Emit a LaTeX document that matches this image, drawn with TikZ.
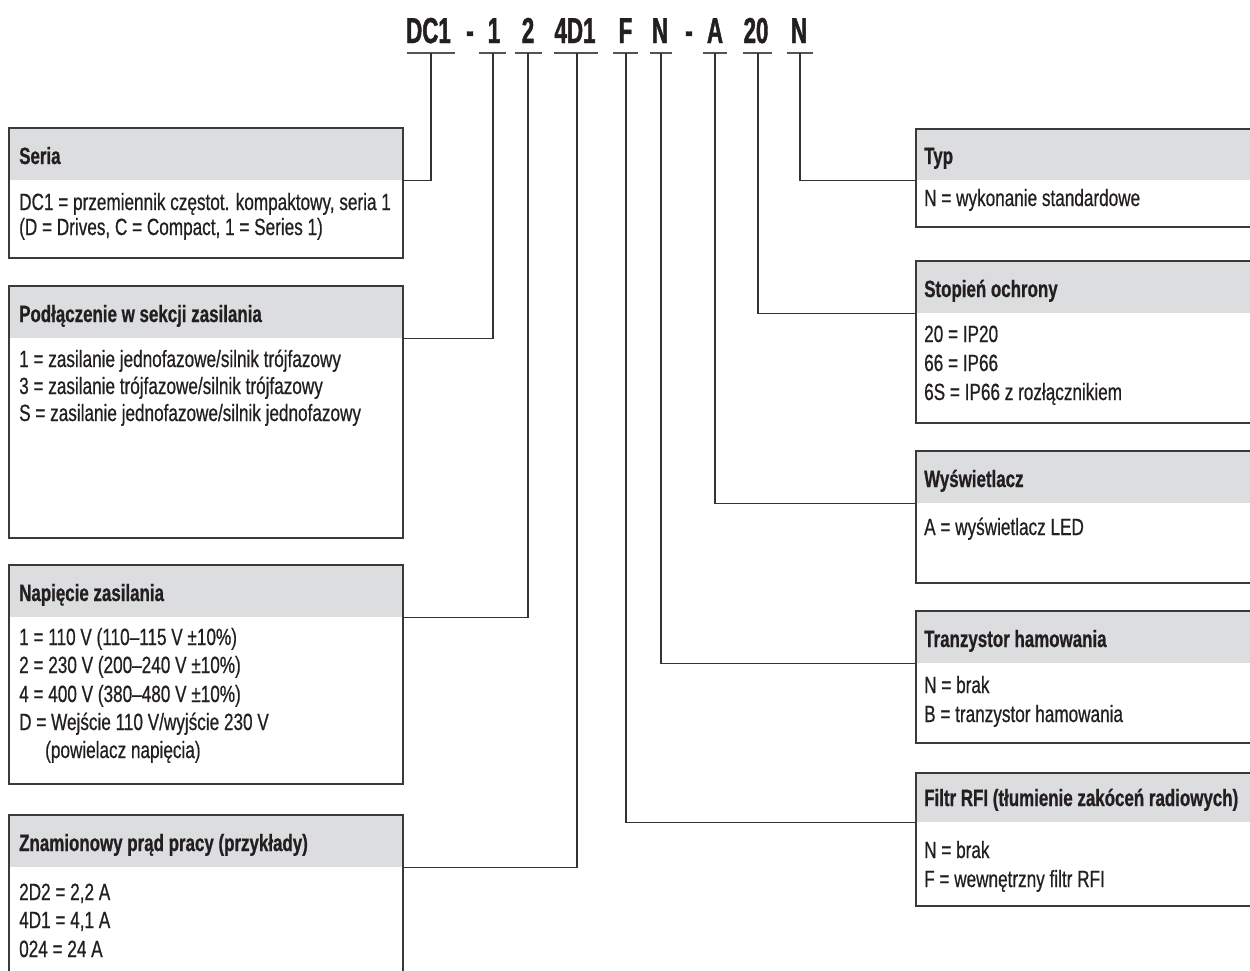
\documentclass[tikz,border=0pt]{standalone}
\usepackage{fontspec}
\setmainfont{Liberation Sans}
\newfontfamily\bodyfam{Liberation Sans}[FakeStretch=0.73,FakeBold=0.6]
\newfontfamily\headfam{Liberation Sans Bold}[FakeStretch=0.72,FakeBold=0.8]
\newfontfamily\codefam{Liberation Sans Bold}[FakeStretch=0.62,FakeBold=1.2]
\definecolor{txtcol}{HTML}{231F20}
\definecolor{headgray}{HTML}{DCDDDF}
\definecolor{bordercol}{HTML}{3A3A3A}
\definecolor{linecol}{HTML}{333333}
\definecolor{ulcol}{HTML}{555555}
\tikzset{
  headfill/.style={fill=headgray, draw=none, inner sep=0pt, anchor=north west},
  boxframe/.style={draw=bordercol, line width=1.8pt, inner sep=0pt, anchor=north west},
  conn/.style={draw=linecol, line width=1.1pt},
  uline/.style={draw=ulcol, line width=1.2pt},
  hdtext/.style={anchor=base west, inner sep=0pt, text=txtcol, font=\headfam\fontsize{23.5}{26}\selectfont},
  bodytext/.style={anchor=base west, inner sep=0pt, text=txtcol, font=\bodyfam\fontsize{23.5}{26}\selectfont},
  codetext/.style={anchor=base, inner sep=0pt, text=txtcol, font=\codefam\fontsize{36}{40}\selectfont}
}
\begin{document}
\begin{tikzpicture}[x=1pt,y=-1pt]
\useasboundingbox[fill=white] (0,0) rectangle (1250,970);

% ---- code at top ----
\node[codetext] (k-dc1) at (428.5,43) {DC1};
\node[codetext] (k-d1) at (470,43) {-};
\node[codetext] (k-1) at (494,43) {1};
\node[codetext] (k-2) at (528,43) {2};
\node[codetext] (k-4d1) at (575,43) {4D1};
\node[codetext] (k-f) at (625.5,43) {F};
\node[codetext] (k-n1) at (660,43) {N};
\node[codetext] (k-d2) at (689,43) {-};
\node[codetext] (k-a) at (715,43) {A};
\node[codetext] (k-20) at (756,43) {20};
\node[codetext] (k-n2) at (799,43) {N};

% underlines
\draw[uline] (407,53) -- (455,53);
\draw[uline] (479,53) -- (506,53);
\draw[uline] (515,53) -- (542,53);
\draw[uline] (554,53) -- (598,53);
\draw[uline] (613,53) -- (638,53);
\draw[uline] (650,53) -- (672,53);
\draw[uline] (703,53) -- (727,53);
\draw[uline] (743,53) -- (772,53);
\draw[uline] (787,53) -- (813,53);

\coordinate (v-dc1) at (431,53);
\coordinate (v-1) at (493,53);
\coordinate (v-2) at (528,53);
\coordinate (v-4d1) at (577,53);
\coordinate (v-f) at (626,53);
\coordinate (v-n1) at (661,53);
\coordinate (v-a) at (715,53);
\coordinate (v-20) at (758,53);
\coordinate (v-n2) at (800,53);

% ---- left boxes ----
% Seria
\node[headfill, minimum width=394pt, minimum height=53pt] (seria-h) at (8,127) {};
\node[boxframe, minimum width=394pt, minimum height=130pt] (seria) at (8,127) {};
\node[hdtext] (seria-t) at (19,164) {Seria};
\node[bodytext] (seria-1) at (19,210) {DC1 = przemiennik częstot. kompaktowy, seria 1};
\node[bodytext] (seria-2) at (19,235) {(D = Drives, C = Compact, 1 = Series 1)};

% Podlaczenie
\node[headfill, minimum width=394pt, minimum height=53pt] (pod-h) at (8,285) {};
\node[boxframe, minimum width=394pt, minimum height=252pt] (pod) at (8,285) {};
\node[hdtext] (pod-t) at (19,322) {Podłączenie w sekcji zasilania};
\node[bodytext] (pod-1) at (19,367) {1 = zasilanie jednofazowe/silnik trójfazowy};
\node[bodytext] (pod-2) at (19,394) {3 = zasilanie trójfazowe/silnik trójfazowy};
\node[bodytext] (pod-3) at (19,421) {S = zasilanie jednofazowe/silnik jednofazowy};

% Napiecie
\node[headfill, minimum width=394pt, minimum height=53pt] (nap-h) at (8,564) {};
\node[boxframe, minimum width=394pt, minimum height=219pt] (nap) at (8,564) {};
\node[hdtext] (nap-t) at (19,601) {Napięcie zasilania};
\node[bodytext] (nap-1) at (19,645) {1 = 110 V (110–115 V ±10\%)};
\node[bodytext] (nap-2) at (19,673) {2 = 230 V (200–240 V ±10\%)};
\node[bodytext] (nap-3) at (19,702) {4 = 400 V (380–480 V ±10\%)};
\node[bodytext] (nap-4) at (19,730) {D = Wejście 110 V/wyjście 230 V};
\node[bodytext] (nap-5) at (45,758) {(powielacz napięcia)};

% Znamionowy
\node[headfill, minimum width=394pt, minimum height=53pt] (zna-h) at (8,814) {};
\node[boxframe, minimum width=394pt, minimum height=180pt] (zna) at (8,814) {};
\node[hdtext] (zna-t) at (19,851) {Znamionowy prąd pracy (przykłady)};
\node[bodytext] (zna-1) at (19,900) {2D2 = 2,2 A};
\node[bodytext] (zna-2) at (19,928) {4D1 = 4,1 A};
\node[bodytext] (zna-3) at (19,957) {024 = 24 A};

% ---- right boxes ----
% Typ
\node[headfill, minimum width=345pt, minimum height=52pt] (typ-h) at (915,128) {};
\node[boxframe, minimum width=345pt, minimum height=98pt] (typ) at (915,128) {};
\node[hdtext] (typ-t) at (924,164) {Typ};
\node[bodytext] (typ-1) at (924,206) {N = wykonanie standardowe};

% Stopien
\node[headfill, minimum width=345pt, minimum height=53pt] (sto-h) at (915,260) {};
\node[boxframe, minimum width=345pt, minimum height=162pt] (sto) at (915,260) {};
\node[hdtext] (sto-t) at (924,297) {Stopień ochrony};
\node[bodytext] (sto-1) at (924,342) {20 = IP20};
\node[bodytext] (sto-2) at (924,371) {66 = IP66};
\node[bodytext] (sto-3) at (924,400) {6S = IP66 z rozłącznikiem};

% Wyswietlacz
\node[headfill, minimum width=345pt, minimum height=53pt] (wys-h) at (915,450) {};
\node[boxframe, minimum width=345pt, minimum height=132pt] (wys) at (915,450) {};
\node[hdtext] (wys-t) at (924,487) {Wyświetlacz};
\node[bodytext] (wys-1) at (924,535) {A = wyświetlacz LED};

% Tranzystor
\node[headfill, minimum width=345pt, minimum height=53pt] (tra-h) at (915,610) {};
\node[boxframe, minimum width=345pt, minimum height=132pt] (tra) at (915,610) {};
\node[hdtext] (tra-t) at (924,647) {Tranzystor hamowania};
\node[bodytext] (tra-1) at (924,693) {N = brak};
\node[bodytext] (tra-2) at (924,722) {B = tranzystor hamowania};

% Filtr
\node[headfill, minimum width=345pt, minimum height=50pt] (fil-h) at (915,772) {};
\node[boxframe, minimum width=345pt, minimum height=133pt] (fil) at (915,772) {};
\node[hdtext] (fil-t) at (924,806) {Filtr RFI (tłumienie zakóceń radiowych)};
\node[bodytext] (fil-1) at (924,858) {N = brak};
\node[bodytext] (fil-2) at (924,887) {F = wewnętrzny filtr RFI};

% ---- connectors ----
\draw[conn] (v-dc1) |- (seria-h.south east);
\draw[conn] (v-1) |- (pod-h.south east);
\draw[conn] (v-2) |- (nap-h.south east);
\draw[conn] (v-4d1) |- (zna-h.south east);
\draw[conn] (v-n2) |- (typ-h.south west);
\draw[conn] (v-20) |- (sto-h.south west);
\draw[conn] (v-a) |- (wys-h.south west);
\draw[conn] (v-n1) |- (tra-h.south west);
\draw[conn] (v-f) |- (fil-h.south west);
\end{tikzpicture}
\end{document}
